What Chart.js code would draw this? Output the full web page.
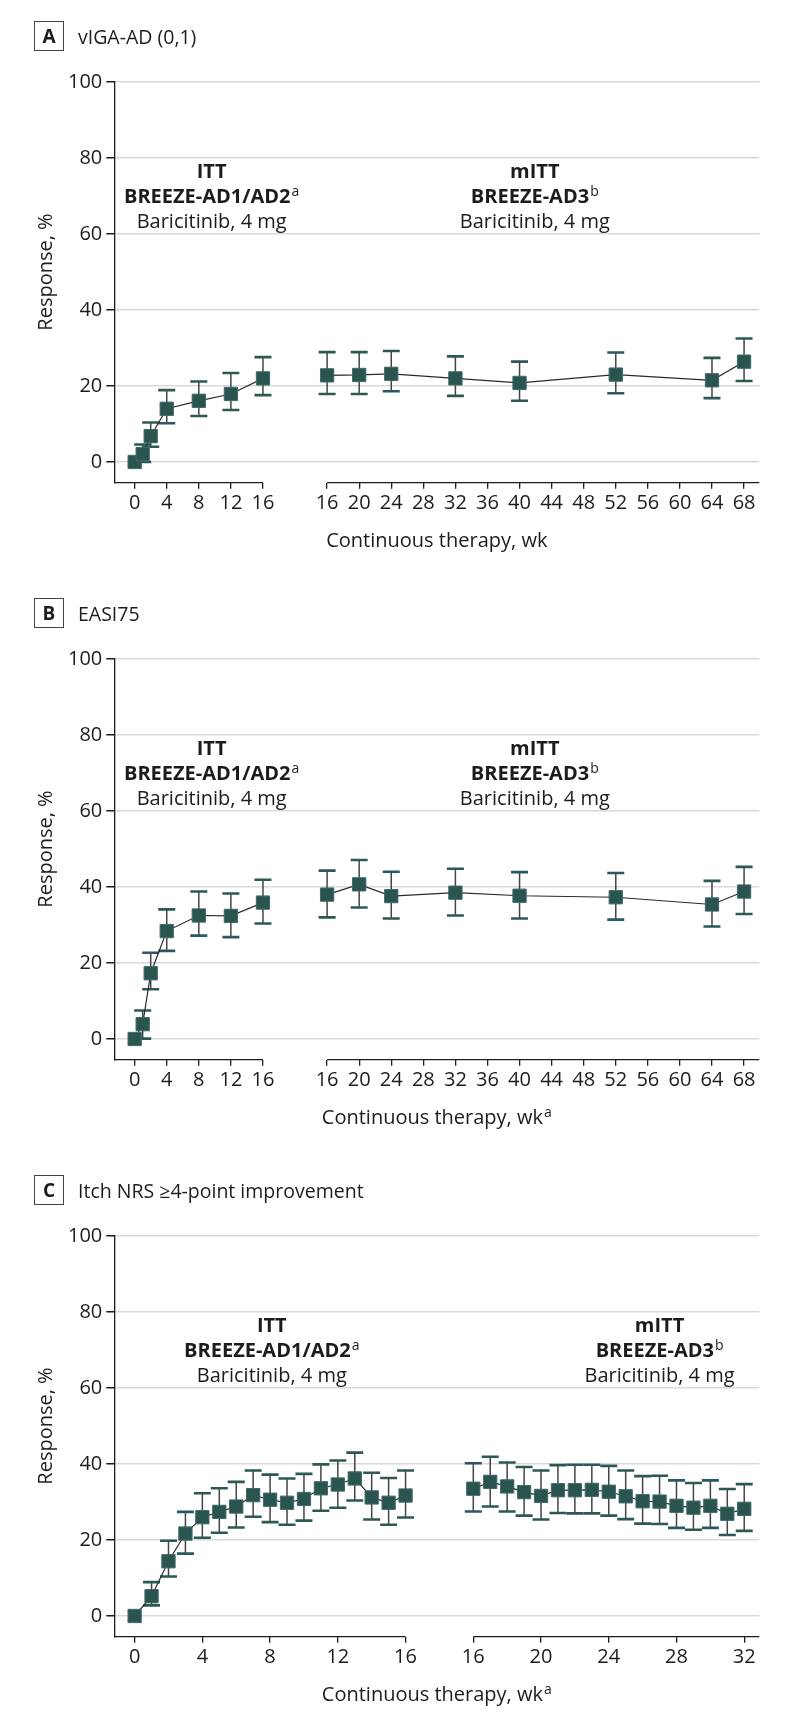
<!DOCTYPE html>
<html>
<head>
<meta charset="utf-8">
<script src="https://cdn.jsdelivr.net/npm/chart.js@4.4.1/dist/chart.umd.min.js"></script>
<style>
  html, body { margin: 0; padding: 0; background: #fff; }
  body { width: 794px; height: 1721px; position: relative; overflow: hidden; font-family: "Open Sans", sans-serif; color: #1c1c1c; }
  .panel { position: absolute; left: 0; width: 794px; height: 577px; }
  .panel canvas { position: absolute; left: 0; top: 0; }
  .head { position: absolute; left: 34px; top: 21px; height: 30px; display: flex; align-items: center; }
  .tag { box-sizing: border-box; width: 30px; height: 30px; border: 1.5px solid #444; font-weight: 700; font-size: 19px; display: flex; align-items: center; justify-content: center; }
  .ttl { margin-left: 14px; font-size: 19.5px; }
</style>
</head>
<body>
<div class="panel" style="top:0">
  <canvas id="chartA" width="794" height="577"></canvas>
  <div class="head"><div class="tag">A</div><div class="ttl">vIGA-AD (0,1)</div></div>
</div>
<div class="panel" style="top:577px">
  <canvas id="chartB" width="794" height="577"></canvas>
  <div class="head"><div class="tag">B</div><div class="ttl">EASI75</div></div>
</div>
<div class="panel" style="top:1154px">
  <canvas id="chartC" width="794" height="577"></canvas>
  <div class="head"><div class="tag">C</div><div class="ttl">Itch NRS ≥4-point improvement</div></div>
</div>

<script>
// Y axis ticks (shared)
const Y_TICKS = [0, 20, 40, 60, 80, 100];

// Panel A: vIGA-AD (0,1)
const A_WEEKS_L = [0, 1, 2, 4, 8, 12, 16];
const A_RESP_L  = [0, 2.1, 6.8, 14.0, 16.1, 17.9, 22.0];
const A_LO_L    = [0, 0, 4.0, 10.2, 12.1, 13.7, 17.6];
const A_HI_L    = [0, 4.6, 10.4, 18.9, 21.2, 23.4, 27.6];
const A_WEEKS_R = [16, 20, 24, 32, 40, 52, 64, 68];
const A_RESP_R  = [22.8, 22.9, 23.2, 22.0, 20.8, 23.0, 21.5, 26.4];
const A_LO_R    = [17.9, 17.9, 18.6, 17.4, 16.1, 18.1, 16.8, 21.3];
const A_HI_R    = [28.9, 28.9, 29.2, 27.8, 26.4, 28.8, 27.4, 32.5];
const A_TICKS_L = [0, 4, 8, 12, 16];
const A_TICKS_R = [16, 20, 24, 28, 32, 36, 40, 44, 48, 52, 56, 60, 64, 68];

// Panel B: EASI75
const B_WEEKS_L = [0, 1, 2, 4, 8, 12, 16];
const B_RESP_L  = [0, 3.9, 17.3, 28.4, 32.5, 32.4, 35.9];
const B_LO_L    = [0, 0.1, 13.1, 23.2, 27.2, 26.8, 30.4];
const B_HI_L    = [0, 7.5, 22.7, 34.1, 38.8, 38.3, 41.9];
const B_WEEKS_R = [16, 20, 24, 32, 40, 52, 64, 68];
const B_RESP_R  = [38.0, 40.7, 37.6, 38.5, 37.7, 37.3, 35.4, 38.8];
const B_LO_R    = [32.0, 34.6, 31.7, 32.5, 31.7, 31.4, 29.6, 32.9];
const B_HI_R    = [44.3, 47.1, 44.0, 44.8, 43.9, 43.7, 41.6, 45.3];

// Panel C: Itch NRS >=4-point improvement
const C_WEEKS_L = [0, 1, 2, 3, 4, 5, 6, 7, 8, 9, 10, 11, 12, 13, 14, 15, 16];
const C_RESP_L  = [0, 5.2, 14.4, 21.7, 26.0, 27.4, 28.8, 31.8, 30.6, 29.8, 30.8, 33.6, 34.6, 36.2, 31.2, 29.8, 31.7];
const C_LO_L    = [0, 2.8, 10.4, 16.4, 20.6, 21.9, 23.3, 26.1, 24.7, 24.0, 25.1, 27.7, 28.5, 30.4, 25.4, 24.0, 25.9];
const C_HI_L    = [0, 8.9, 19.8, 27.4, 32.3, 33.6, 35.3, 38.3, 37.2, 36.2, 37.4, 39.9, 40.9, 43.0, 37.7, 36.3, 38.3];
const C_WEEKS_R = [16, 17, 18, 19, 20, 21, 22, 23, 24, 25, 26, 27, 28, 29, 30, 31, 32];
const C_RESP_R  = [33.5, 35.3, 34.1, 32.6, 31.6, 33.1, 33.1, 33.2, 32.7, 31.5, 30.2, 30.1, 29.0, 28.5, 29.0, 26.9, 28.2];
const C_LO_R    = [27.5, 28.8, 27.5, 26.4, 25.4, 27.1, 27.0, 27.0, 26.4, 25.5, 24.3, 24.2, 23.2, 22.7, 23.2, 21.3, 22.4];
const C_HI_R    = [40.2, 41.9, 40.4, 39.2, 38.3, 39.7, 39.8, 39.8, 39.5, 38.3, 36.8, 36.9, 35.7, 35.0, 35.7, 33.4, 34.7];
const C_TICKS_L = [0, 4, 8, 12, 16];
const C_TICKS_R = [16, 20, 24, 28, 32];

// Colors / fonts
const FONT = '"Open Sans", sans-serif';
const INK = '#1c1c1c';
const MARK = '#2a5450';
const MARK_EDGE = '#3f6b67';
const CAP = '#2d5955';
const WHISKER = '#444444';
const GRID = '#d9d9d9';

// draw text with an optional superscript, centred on cx
function drawSupText(ctx, cx, y, text, sup, weight) {
  ctx.font = `${weight} 20px ${FONT}`;
  const w1 = ctx.measureText(text).width;
  ctx.font = `400 14px ${FONT}`;
  const w2 = sup ? ctx.measureText(sup).width + 1 : 0;
  const x0 = cx - (w1 + w2) / 2;
  ctx.textAlign = 'left';
  ctx.textBaseline = 'alphabetic';
  ctx.font = `${weight} 20px ${FONT}`;
  ctx.fillText(text, x0, y);
  if (sup) {
    ctx.font = `400 14px ${FONT}`;
    ctx.fillText(sup, x0 + w1 + 1, y - 7);
  }
}

const brokenAxis = {
  id: 'brokenAxis',
  beforeDatasetsDraw(chart) {
    const ctx = chart.ctx;
    const y = chart.scales.y;
    ctx.save();
    chart.data.datasets.forEach((ds, i) => {
      const xs = chart.scales[chart.getDatasetMeta(i).xAxisID];
      ds.data.forEach((pt, j) => {
        if (ds.hi[j] === ds.lo[j]) return;
        const px = xs.getPixelForValue(pt.x);
        const pLo = y.getPixelForValue(ds.lo[j]);
        const pHi = y.getPixelForValue(ds.hi[j]);
        ctx.strokeStyle = WHISKER;
        ctx.lineWidth = 1.5;
        ctx.beginPath();
        ctx.moveTo(px, pLo);
        ctx.lineTo(px, pHi);
        ctx.stroke();
        ctx.strokeStyle = CAP;
        ctx.lineWidth = 2.6;
        ctx.beginPath();
        ctx.moveTo(px - 8.5, pLo); ctx.lineTo(px + 8.5, pLo);
        ctx.moveTo(px - 8.5, pHi); ctx.lineTo(px + 8.5, pHi);
        ctx.stroke();
      });
    });
    ctx.restore();
  },
  afterDraw(chart, args, opts) {
    const ctx = chart.ctx;
    const area = chart.chartArea;
    const x = chart.scales.x, xr = chart.scales.xr, y = chart.scales.y;
    ctx.save();
    // broken x axis line
    ctx.strokeStyle = INK;
    ctx.lineWidth = 1.3;
    ctx.beginPath();
    ctx.moveTo(area.left, area.bottom);
    ctx.lineTo(x.getPixelForValue(opts.leftEnd), area.bottom);
    ctx.moveTo(xr.getPixelForValue(opts.rightStart), area.bottom);
    ctx.lineTo(area.right, area.bottom);
    ctx.stroke();

    ctx.fillStyle = INK;
    // x title
    drawSupText(ctx, (area.left + area.right) / 2, 547, 'Continuous therapy, wk', opts.xSup, 400);
    // y title
    ctx.save();
    ctx.translate(46, (y.getPixelForValue(0) + y.getPixelForValue(100)) / 2);
    ctx.rotate(-Math.PI / 2);
    ctx.font = `400 20px ${FONT}`;
    ctx.textAlign = 'center';
    ctx.textBaseline = 'middle';
    ctx.fillText('Response, %', 0, 0);
    ctx.restore();

    // group labels
    const baseY = y.getPixelForValue(opts.labelY);
    const groups = [
      { cx: x.getPixelForValue(opts.labelL), lines: [['ITT', '', 700], ['BREEZE-AD1/AD2', 'a', 700], ['Baricitinib, 4 mg', '', 400]] },
      { cx: xr.getPixelForValue(opts.labelR), lines: [['mITT', '', 700], ['BREEZE-AD3', 'b', 700], ['Baricitinib, 4 mg', '', 400]] }
    ];
    groups.forEach(g => {
      g.lines.forEach((ln, k) => drawSupText(ctx, g.cx, baseY + k * 25.3, ln[0], ln[1], ln[2]));
    });
    ctx.restore();
  }
};

function segment(weeks, vals, lo, hi, axis) {
  return {
    data: weeks.map((w, i) => ({ x: w, y: vals[i] })),
    lo: lo,
    hi: hi,
    xAxisID: axis,
    borderColor: '#2a2a2a',
    borderWidth: 1.2,
    pointStyle: 'rect',
    pointRadius: 9.4,
    pointBackgroundColor: MARK,
    pointBorderColor: MARK_EDGE,
    pointBorderWidth: 1,
    tension: 0,
    clip: false
  };
}

function makePanel(id, cfg) {
  const lastLeft = cfg.ticksL[cfg.ticksL.length - 1];
  return new Chart(document.getElementById(id), {
    type: 'line',
    data: {
      datasets: [
        segment(cfg.weeksL, cfg.respL, cfg.loL, cfg.hiL, 'x'),
        segment(cfg.weeksR, cfg.respR, cfg.loR, cfg.hiR, 'xr')
      ]
    },
    options: {
      responsive: false,
      animation: false,
      layout: { padding: { left: 24.3, right: 34.7, top: 82, bottom: 14.3 } },
      plugins: {
        legend: { display: false },
        tooltip: { enabled: false },
        brokenAxis: {
          leftEnd: lastLeft,
          rightStart: cfg.ticksR[0],
          xSup: cfg.xSup,
          labelY: 74.8,
          labelL: cfg.labelL,
          labelR: cfg.labelR
        }
      },
      scales: {
        x: {
          type: 'linear',
          min: cfg.xMin,
          max: cfg.xMax,
          afterBuildTicks: s => {
            s.ticks = cfg.ticksL.concat(cfg.ticksR.map(v => v + cfg.gap)).map(v => ({ value: v }));
          },
          afterFit: s => { s.height = 80; },
          ticks: {
            autoSkip: false,
            maxRotation: 0,
            padding: 3,
            color: INK,
            font: { family: FONT, size: 20 },
            callback: v => (v > lastLeft ? v - cfg.gap : v)
          },
          grid: { drawOnChartArea: false, tickLength: 6, tickColor: INK, lineWidth: 1.3 },
          border: { display: false }
        },
        xr: {
          type: 'linear',
          display: false,
          min: cfg.xMin - cfg.gap,
          max: cfg.xMax - cfg.gap
        },
        y: {
          min: -5.45,
          max: 100,
          afterBuildTicks: s => { s.ticks = Y_TICKS.map(v => ({ value: v })); },
          afterFit: s => { s.width = 90; },
          ticks: { padding: 4, color: INK, font: { family: FONT, size: 20 } },
          grid: { color: GRID, lineWidth: 1.5, tickLength: 8, tickColor: INK },
          border: { color: INK, width: 1.3 }
        }
      }
    },
    plugins: [brokenAxis]
  });
}

makePanel('chartA', {
  weeksL: A_WEEKS_L, respL: A_RESP_L, loL: A_LO_L, hiL: A_HI_L,
  weeksR: A_WEEKS_R, respR: A_RESP_R, loR: A_LO_R, hiR: A_HI_R,
  ticksL: A_TICKS_L, ticksR: A_TICKS_R, gap: 8, xMin: -2.54, xMax: 77.9,
  xSup: '', labelL: 9.6, labelR: 41.9
});
makePanel('chartB', {
  weeksL: B_WEEKS_L, respL: B_RESP_L, loL: B_LO_L, hiL: B_HI_L,
  weeksR: B_WEEKS_R, respR: B_RESP_R, loR: B_LO_R, hiR: B_HI_R,
  ticksL: A_TICKS_L, ticksR: A_TICKS_R, gap: 8, xMin: -2.54, xMax: 77.9,
  xSup: 'a', labelL: 9.6, labelR: 41.9
});
makePanel('chartC', {
  weeksL: C_WEEKS_L, respL: C_RESP_L, loL: C_LO_L, hiL: C_HI_L,
  weeksR: C_WEEKS_R, respR: C_RESP_R, loR: C_LO_R, hiR: C_HI_R,
  ticksL: C_TICKS_L, ticksR: C_TICKS_R, gap: 4, xMin: -1.2, xMax: 36.89,
  xSup: 'a', labelL: 8.1, labelR: 27.0
});
</script>
</body>
</html>
